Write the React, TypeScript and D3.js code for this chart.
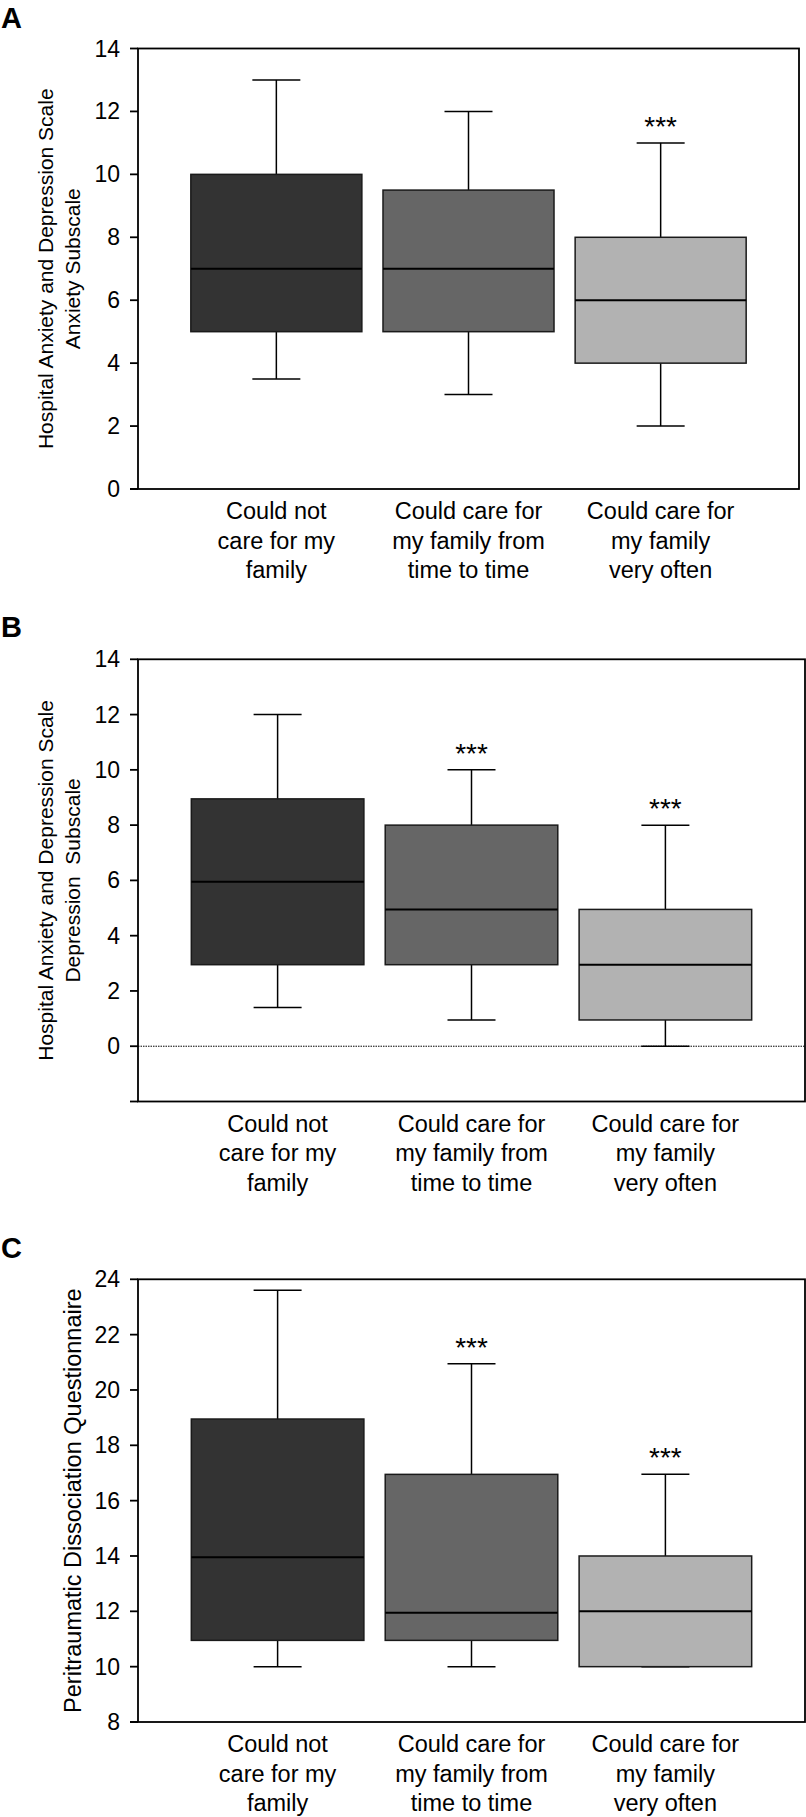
import React from "react";
import * as d3 from "d3";

const categoryLines: string[][] = [
  ["Could not", "care for my", "family"],
  ["Could care for", "my family from", "time to time"],
  ["Could care for", "my family", "very often"],
];
const groupFills = ["#333333", "#666666", "#b2b2b2"];

// Panel A: HADS Anxiety
const anxietyMin = [3.5, 3, 2];
const anxietyQ1 = [5, 5, 4];
const anxietyMedian = [7, 7, 6];
const anxietyQ3 = [10, 9.5, 8];
const anxietyMax = [13, 12, 11];
const anxietySig = ["", "", "***"];
const anxietyTicks = [0, 2, 4, 6, 8, 10, 12, 14];

// Panel B: HADS Depression
const depressionMin = [1.4, 0.95, 0];
const depressionQ1 = [2.95, 2.95, 0.95];
const depressionMedian = [5.95, 4.95, 2.95];
const depressionQ3 = [8.95, 8, 4.95];
const depressionMax = [12, 10, 8];
const depressionSig = ["", "***", "***"];
const depressionTicks = [0, 2, 4, 6, 8, 10, 12, 14];

// Panel C: Peritraumatic Dissociation Questionnaire
const pdqMin = [10, 10, 10];
const pdqQ1 = [10.95, 10.95, 10];
const pdqMedian = [13.95, 11.95, 12];
const pdqQ3 = [18.95, 16.95, 14];
const pdqMax = [23.6, 20.95, 16.95];
const pdqSig = ["", "***", "***"];
const pdqTicks = [8, 10, 12, 14, 16, 18, 20, 22, 24];

const FONT = "'Liberation Sans', Arial, Helvetica, sans-serif";

type PanelProps = {
  letter: string;
  letterY: number;
  top: number;
  bottom: number;
  left: number;
  right: number;
  domain: [number, number];
  ticks: number[];
  mins: number[];
  q1s: number[];
  medians: number[];
  q3s: number[];
  maxs: number[];
  sigs: string[];
  yLabel: string[];
  yLabelSize: number;
  zeroLine?: boolean;
};

function Panel(p: PanelProps) {
  const x = d3
    .scaleBand<number>()
    .domain([0, 1, 2])
    .range([p.left, p.right])
    .paddingInner(0.11)
    .paddingOuter(0.275);
  const y = d3.scaleLinear().domain(p.domain).range([p.bottom, p.top]);
  const bw = x.bandwidth();
  const capW = 48;
  const yMid = (p.top + p.bottom) / 2;
  const labelX = p.yLabel.length === 2 ? [53, 80] : [81];
  return (
    <g>
      <text x={1} y={p.letterY} fontFamily={FONT} fontWeight="bold" fontSize={29}>
        {p.letter}
      </text>
      {p.yLabel.map((t, i) => (
        <text
          key={i}
          transform={`translate(${labelX[i]},${yMid}) rotate(-90)`}
          textAnchor="middle"
          fontFamily={FONT}
          fontSize={p.yLabelSize}
          style={{ whiteSpace: "pre" }}
        >
          {t}
        </text>
      ))}
      {p.zeroLine && (
        <line
          x1={p.left}
          x2={p.right}
          y1={y(0)}
          y2={y(0)}
          stroke="#000"
          strokeWidth={1}
          strokeDasharray="1.5,1"
        />
      )}
      {[0, 1, 2].map((i) => {
        const x0 = x(i)!;
        const cx = x0 + bw / 2;
        return (
          <g key={i}>
            <line x1={cx} x2={cx} y1={y(p.maxs[i])} y2={y(p.q3s[i])} stroke="#000" strokeWidth={1.5} />
            <line x1={cx} x2={cx} y1={y(p.q1s[i])} y2={y(p.mins[i])} stroke="#000" strokeWidth={1.5} />
            <line x1={cx - capW / 2} x2={cx + capW / 2} y1={y(p.maxs[i])} y2={y(p.maxs[i])} stroke="#000" strokeWidth={1.5} />
            <line x1={cx - capW / 2} x2={cx + capW / 2} y1={y(p.mins[i])} y2={y(p.mins[i])} stroke="#000" strokeWidth={1.5} />
            <rect
              x={x0}
              y={y(p.q3s[i])}
              width={bw}
              height={y(p.q1s[i]) - y(p.q3s[i])}
              fill={groupFills[i]}
              stroke="#1a1a1a"
              strokeWidth={1.5}
            />
            <line x1={x0} x2={x0 + bw} y1={y(p.medians[i])} y2={y(p.medians[i])} stroke="#000" strokeWidth={2} />
            {p.sigs[i] && (
              <text
                x={cx}
                y={y(p.maxs[i]) - 7}
                textAnchor="middle"
                fontFamily={FONT}
                fontSize={28}
              >
                {p.sigs[i]}
              </text>
            )}
            {categoryLines[i].map((t, k) => (
              <text
                key={k}
                x={cx}
                y={p.bottom + 30 + k * 29.5}
                textAnchor="middle"
                fontFamily={FONT}
                fontSize={23.5}
              >
                {t}
              </text>
            ))}
          </g>
        );
      })}
      <rect
        x={p.left}
        y={p.top}
        width={p.right - p.left}
        height={p.bottom - p.top}
        fill="none"
        stroke="#000"
        strokeWidth={1.8}
      />
      {p.ticks.map((t) => (
        <g key={t}>
          <line x1={p.left - 8} x2={p.left} y1={y(t)} y2={y(t)} stroke="#000" strokeWidth={1.8} />
          <text
            x={120}
            y={y(t)}
            dy="0.35em"
            textAnchor="end"
            fontFamily={FONT}
            fontSize={23}
          >
            {t}
          </text>
        </g>
      ))}
      <line x1={p.left - 8} x2={p.left} y1={p.bottom} y2={p.bottom} stroke="#000" strokeWidth={1.8} />
    </g>
  );
}

export default function App() {
  return (
    <div style={{ position: "absolute", left: 0, top: 0 }}>
      <svg width={806} height={1817} style={{ display: "block", background: "#fff" }}>
        <Panel
          letter="A"
          letterY={28}
          top={48.5}
          bottom={489}
          left={138}
          right={799}
          domain={[0, 14]}
          ticks={anxietyTicks}
          mins={anxietyMin}
          q1s={anxietyQ1}
          medians={anxietyMedian}
          q3s={anxietyQ3}
          maxs={anxietyMax}
          sigs={anxietySig}
          yLabel={["Hospital Anxiety and Depression Scale", "Anxiety Subscale"]}
          yLabelSize={21}
        />
        <Panel
          letter="B"
          letterY={637}
          top={659.3}
          bottom={1101.5}
          left={138}
          right={805}
          domain={[-2, 14]}
          ticks={depressionTicks}
          mins={depressionMin}
          q1s={depressionQ1}
          medians={depressionMedian}
          q3s={depressionQ3}
          maxs={depressionMax}
          sigs={depressionSig}
          yLabel={["Hospital Anxiety and Depression Scale", "Depression  Subscale"]}
          yLabelSize={21}
          zeroLine
        />
        <Panel
          letter="C"
          letterY={1258}
          top={1279.3}
          bottom={1722}
          left={138}
          right={805}
          domain={[8, 24]}
          ticks={pdqTicks}
          mins={pdqMin}
          q1s={pdqQ1}
          medians={pdqMedian}
          q3s={pdqQ3}
          maxs={pdqMax}
          sigs={pdqSig}
          yLabel={["Peritraumatic Dissociation Questionnaire"]}
          yLabelSize={23.5}
        />
      </svg>
    </div>
  );
}
